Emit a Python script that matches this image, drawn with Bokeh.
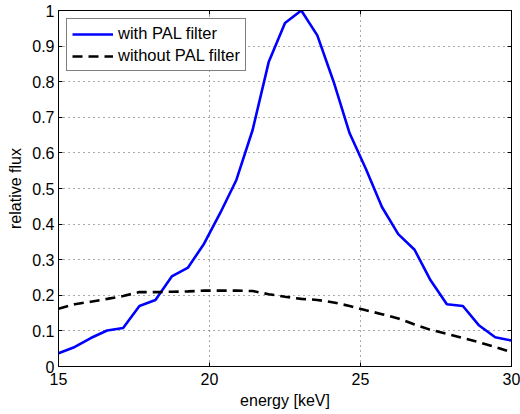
from bokeh.plotting import figure
from bokeh.models import Range1d, FixedTicker, LinearAxis, Legend, LegendItem
from bokeh.embed import file_html
from bokeh.resources import INLINE

# ---- data ----
energy = [15.00, 15.54, 16.07, 16.61, 17.14, 17.68, 18.21, 18.75, 19.29, 19.82,
          20.36, 20.89, 21.43, 21.96, 22.50, 23.04, 23.57, 24.11, 24.64, 25.18,
          25.71, 26.25, 26.79, 27.32, 27.86, 28.39, 28.93, 29.46, 30.00]
with_pal = [0.037, 0.055, 0.080, 0.101, 0.108, 0.170, 0.187, 0.253, 0.278, 0.345,
            0.432, 0.524, 0.665, 0.855, 0.965, 1.000, 0.930, 0.800, 0.655, 0.555,
            0.448, 0.372, 0.328, 0.242, 0.175, 0.170, 0.115, 0.082, 0.073]
without_pal = [0.162, 0.175, 0.182, 0.190, 0.198, 0.209, 0.209, 0.210, 0.211, 0.213,
               0.213, 0.213, 0.212, 0.203, 0.196, 0.190, 0.187, 0.180, 0.170, 0.158,
               0.147, 0.135, 0.118, 0.103, 0.092, 0.080, 0.068, 0.055, 0.040]
series_labels = ["with PAL filter", "without PAL filter"]
x_ticks = [15, 20, 25, 30]
y_ticks = [0, 0.1, 0.2, 0.3, 0.4, 0.5, 0.6, 0.7, 0.8, 0.9, 1]
y_tick_labels = ["0", "0.1", "0.2", "0.3", "0.4", "0.5", "0.6", "0.7", "0.8", "0.9", "1"]
x_label = "energy [keV]"
y_label = "relative flux"

FONT = "Liberation Sans"

p = figure(width=520, height=414, output_backend="svg", toolbar_location=None,
           x_range=Range1d(15, 30), y_range=Range1d(0, 1),
           min_border_left=58, min_border_right=9, min_border_top=10,
           min_border_bottom=48)
p.background_fill_color = "white"
p.border_fill_color = "white"
p.outline_line_color = "black"
p.outline_line_width = 1

# grid
for g in (p.xgrid, p.ygrid):
    g.grid_line_color = "#555555"
    g.grid_line_dash = "1 4"
    g.grid_line_width = 1
p.xgrid.ticker = FixedTicker(ticks=x_ticks)
p.ygrid.ticker = FixedTicker(ticks=y_ticks)

# axes
xa = p.xaxis[0]
ya = p.yaxis[0]
xa.ticker = FixedTicker(ticks=x_ticks)
ya.ticker = FixedTicker(ticks=y_ticks)
ya.major_label_overrides = dict(zip(y_ticks, y_tick_labels))
xa.axis_label = x_label
ya.axis_label = y_label
for ax in (xa, ya):
    ax.axis_line_color = "black"
    ax.major_tick_line_color = "black"
    ax.major_tick_in = 4
    ax.major_tick_out = 0
    ax.minor_tick_line_color = None
    ax.major_label_text_font = FONT
    ax.major_label_text_font_size = "16px"
    ax.major_label_text_color = "black"
    ax.axis_label_text_font = FONT
    ax.axis_label_text_font_size = "16px"
    ax.axis_label_text_font_style = "normal"
    ax.axis_label_text_color = "black"
xa.major_label_standoff = 6
xa.axis_label_standoff = 4
ya.major_label_standoff = 4
ya.axis_label_standoff = 5

# box ticks on top and right (no labels)
top = LinearAxis(ticker=FixedTicker(ticks=x_ticks), major_tick_in=4, major_tick_out=0,
                 minor_tick_line_color=None, major_label_standoff=0,
                 axis_line_color="black", major_label_text_font_size="1px",
                 major_label_overrides={t: "" for t in x_ticks})
right = LinearAxis(ticker=FixedTicker(ticks=y_ticks), major_tick_in=4, major_tick_out=0,
                   minor_tick_line_color=None, major_label_standoff=0,
                   axis_line_color="black", major_label_text_font_size="1px",
                   major_label_overrides={t: "" for t in y_ticks})
p.add_layout(top, "above")
p.add_layout(right, "right")

# lines
r1 = p.line(energy, with_pal, line_color="#0000ff", line_width=2.6)
r2 = p.line(energy, without_pal, line_color="black", line_width=2.6, line_dash="10 6")

legend = Legend(items=[LegendItem(label=series_labels[0], renderers=[r1]),
                       LegendItem(label=series_labels[1], renderers=[r2])],
                location="top_left")
legend.margin = 8
legend.padding = 5
legend.spacing = 3
legend.glyph_width = 41
legend.glyph_height = 18
legend.label_height = 18
legend.label_standoff = 5
legend.label_text_font = FONT
legend.label_text_font_size = "16.5px"
legend.label_text_color = "black"
legend.border_line_color = "black"
legend.border_line_width = 1
legend.background_fill_color = "white"
legend.background_fill_alpha = 1
p.add_layout(legend)

open("out.html", "w").write(file_html(p, INLINE))
